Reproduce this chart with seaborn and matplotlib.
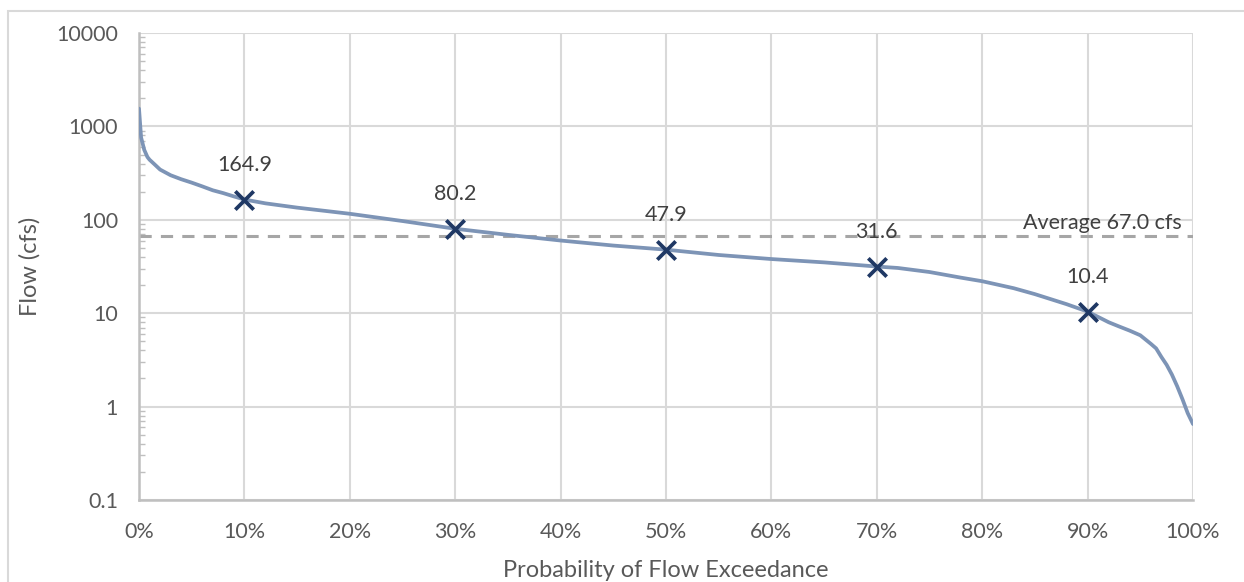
import matplotlib
matplotlib.use("Agg")
import matplotlib.pyplot as plt
import matplotlib.ticker as mticker
from matplotlib.patches import Rectangle
import numpy as np
import pandas as pd
import seaborn as sns

# Flow duration curve: percent of time a flow is equalled or exceeded
exceedance_pct = [0, 0.2, 0.5, 0.8, 1.0, 1.5, 2, 3, 4, 5, 6, 7, 8, 9, 10,
                  12, 15, 20, 25, 30, 35, 40, 45, 50, 55, 60, 65, 70, 72,
                  75, 78, 80, 83, 85, 88, 90, 92, 93, 94, 95, 96, 96.5, 97,
                  97.5, 98, 98.5, 99, 99.5, 100]
flow_cfs = [1550, 760, 560, 470, 440, 390, 345, 300, 272, 250, 228, 207,
            193, 178, 164.9, 150, 135, 116, 97, 80.2, 69, 60, 53, 47.9, 42,
            38, 35, 31.6, 30.5, 27.6, 24, 22, 18.5, 16, 12.5, 10.4, 8.0,
            7.2, 6.5, 5.8, 4.7, 4.2, 3.4, 2.8, 2.2, 1.65, 1.2, 0.85, 0.65]

# Highlighted percentiles
marker_pct = [10, 30, 50, 70, 90]
marker_flow = [164.9, 80.2, 47.9, 31.6, 10.4]

average_flow = 67.0

y_ticks = [0.1, 1, 10, 100, 1000, 10000]
y_tick_labels = ["0.1", "1", "10", "100", "1000", "10000"]
x_ticks = [0, 10, 20, 30, 40, 50, 60, 70, 80, 90, 100]
x_tick_labels = [f"{t}%" for t in x_ticks]

curve = pd.DataFrame({"exceed": exceedance_pct, "flow": flow_cfs})
points = pd.DataFrame({"exceed": marker_pct, "flow": marker_flow})

sns.set_theme(style="white")
plt.rcParams["font.family"] = ["Lato", "DejaVu Sans"]

W, H = 1244, 582
fig = plt.figure(figsize=(W / 100, H / 100), dpi=100)
ax = fig.add_axes([139 / W, 1 - 500 / H, (1193 - 139) / W, (500 - 33) / H])

grid_c = "#D9D9D9"
text_c = "#595959"
tick_fs = 15.5
label_fs = 15.5
title_fs = 17

ax.set_yscale("log")
ax.set_xlim(0, 100)
ax.set_ylim(0.1, 10000)

sns.lineplot(data=curve, x="exceed", y="flow", ax=ax, color="#7D94B6",
             linewidth=2.7, zorder=3)
sns.scatterplot(data=points, x="exceed", y="flow", ax=ax, marker="x",
                s=175, color="#1F3864", linewidth=2.7, zorder=5)

ax.axhline(average_flow, color="#A6A6A6", linewidth=2.2,
           linestyle=(0, (4, 3)), zorder=2)
ax.annotate(f"Average {average_flow:.1f} cfs", xy=(98.95, average_flow),
            xytext=(0, 2), textcoords="offset points", ha="right",
            va="bottom", fontsize=label_fs, color="#404040", zorder=6)

for xp, yp in zip(marker_pct, marker_flow):
    ax.annotate(f"{yp:.1f}", xy=(xp, yp), xytext=(0, 25),
                textcoords="offset points", ha="center", va="center",
                fontsize=label_fs, color="#404040", zorder=6)

ax.set_xticks(x_ticks)
ax.set_xticklabels(x_tick_labels)
ax.set_yticks(y_ticks)
ax.set_yticklabels(y_tick_labels)
ax.yaxis.set_minor_locator(mticker.LogLocator(base=10, subs=np.arange(2, 10)))
ax.yaxis.set_minor_formatter(mticker.NullFormatter())

ax.grid(True, which="major", color=grid_c, linewidth=1.5)
ax.set_axisbelow(True)
ax.tick_params(axis="both", which="major", length=0, labelsize=tick_fs,
               labelcolor=text_c)
ax.tick_params(axis="y", which="major", pad=15)
ax.tick_params(axis="x", which="major", pad=16)
ax.tick_params(axis="y", which="minor", direction="in", length=4,
               width=1, color="#BFBFBF", left=True)

for side in ("top", "right"):
    ax.spines[side].set_visible(False)
for side in ("left", "bottom"):
    ax.spines[side].set_color("#BFBFBF")
    ax.spines[side].set_linewidth(1.8)

ax.set_xlabel("Probability of Flow Exceedance", fontsize=title_fs,
              color=text_c, labelpad=13)
ax.set_ylabel("Flow (cfs)", fontsize=title_fs, color=text_c, labelpad=11)

# Chart-area border
fig.patches.append(Rectangle((8 / W, -0.2), 1.5, 1.2 - 11 / H,
                             transform=fig.transFigure, fill=False,
                             edgecolor=grid_c, linewidth=1.5))

fig.savefig("out.png", dpi=100, facecolor="white")
